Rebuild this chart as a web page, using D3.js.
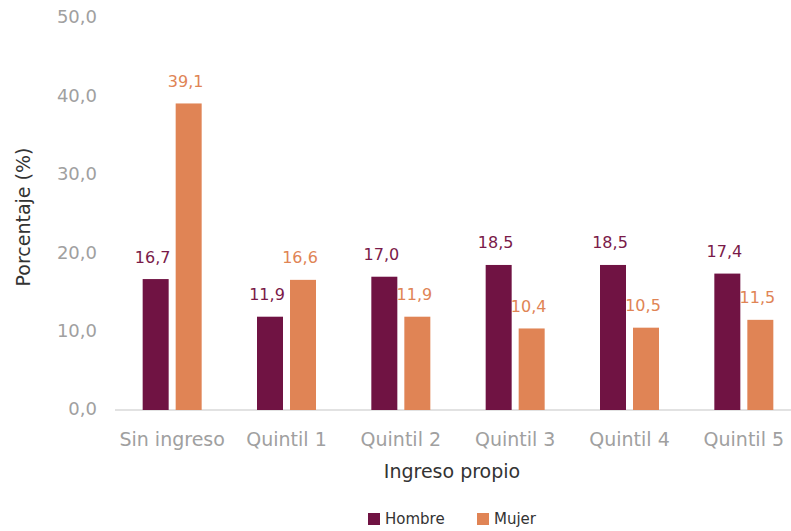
<!DOCTYPE html>
<html>
<head>
<meta charset="utf-8">
<script src="https://cdn.jsdelivr.net/npm/d3@7"></script>
<style>
    body { margin: 0; background: #fff; }
    text { font-family: "DejaVu Sans", Verdana, sans-serif; }
</style>
</head>
<body>
<div id="chart"></div>
<script>
(function(d3) {
    'use strict';

    var categories = ['Sin ingreso', 'Quintil 1', 'Quintil 2', 'Quintil 3', 'Quintil 4', 'Quintil 5'];
    var hombre = [16.7, 11.9, 17.0, 18.5, 18.5, 17.4];
    var mujer = [39.1, 16.6, 11.9, 10.4, 10.5, 11.5];
    var yTicks = [0, 10, 20, 30, 40, 50];
    var seriesNames = ['Hombre', 'Mujer'];

    var colors = { Hombre: '#701343', Mujer: '#e08455' };
    var labelColors = { Hombre: '#7a1a49', Mujer: '#e08455' };

    var width = 791, height = 531;
    var fmt = function(v) { return d3.format('.1f')(v).replace('.', ','); };

    var svg = d3.select('#chart').append('svg')
        .attr('width', width)
        .attr('height', height);

    var x = d3.scaleBand()
        .domain(categories)
        .range([115, 801]);

    var y = d3.scaleLinear()
        .domain([0, 50])
        .range([410, 18]);

    var barW = 26, gap = 7;

    // y tick labels
    svg.append('g').selectAll('text')
        .data(yTicks)
        .enter().append('text')
        .attr('x', 97)
        .attr('y', function(d) { return y(d); })
        .attr('dy', '0.3em')
        .attr('text-anchor', 'end')
        .attr('font-size', 18)
        .attr('fill', '#a0a0a0')
        .text(fmt);

    // baseline
    svg.append('line')
        .attr('x1', 115).attr('x2', width)
        .attr('y1', y(0)).attr('y2', y(0))
        .attr('stroke', '#d9d9d9')
        .attr('stroke-width', 1.5);

    var data = [];
    categories.forEach(function(c, i) {
        data.push({ cat: c, s: 'Hombre', v: hombre[i], off: -barW - gap / 2 });
        data.push({ cat: c, s: 'Mujer', v: mujer[i], off: gap / 2 });
    });

    svg.append('g').selectAll('rect')
        .data(data)
        .enter().append('rect')
        .attr('x', function(d) { return x(d.cat) + x.bandwidth() / 2 + d.off; })
        .attr('y', function(d) { return y(d.v); })
        .attr('width', barW)
        .attr('height', function(d) { return y(0) - y(d.v); })
        .attr('fill', function(d) { return colors[d.s]; });

    svg.append('g').selectAll('text')
        .data(data)
        .enter().append('text')
        .attr('x', function(d) { return x(d.cat) + x.bandwidth() / 2 + d.off + barW / 2 - 3; })
        .attr('y', function(d) { return y(d.v) - 16.5; })
        .attr('text-anchor', 'middle')
        .attr('font-family', '"DejaVu Sans Condensed", "DejaVu Sans", sans-serif')
        .attr('font-size', 16)
        .attr('fill', function(d) { return labelColors[d.s]; })
        .text(function(d) { return fmt(d.v); });

    // x tick labels
    svg.append('g').selectAll('text')
        .data(categories)
        .enter().append('text')
        .attr('x', function(d) { return x(d) + x.bandwidth() / 2; })
        .attr('y', 446)
        .attr('text-anchor', 'middle')
        .attr('font-size', 19)
        .attr('fill', '#a0a0a0')
        .text(function(d) { return d; });

    svg.append('text')
        .attr('x', 452)
        .attr('y', 478)
        .attr('text-anchor', 'middle')
        .attr('font-size', 19)
        .attr('fill', '#333')
        .text('Ingreso propio');

    svg.append('text')
        .attr('transform', 'translate(30,217) rotate(-90)')
        .attr('text-anchor', 'middle')
        .attr('font-size', 19)
        .attr('fill', '#333')
        .text('Porcentaje (%)');

    // legend
    var legendX = [368, 477];
    var legend = svg.append('g').selectAll('g')
        .data(seriesNames)
        .enter().append('g')
        .attr('transform', function(d, i) { return 'translate(' + legendX[i] + ',513)'; });

    legend.append('rect')
        .attr('width', 12)
        .attr('height', 12)
        .attr('fill', function(d) { return colors[d]; });

    legend.append('text')
        .attr('x', 17)
        .attr('y', 11)
        .attr('font-size', 15)
        .attr('fill', '#333')
        .text(function(d) { return d; });

})(window.d3);
</script>
</body>
</html>
